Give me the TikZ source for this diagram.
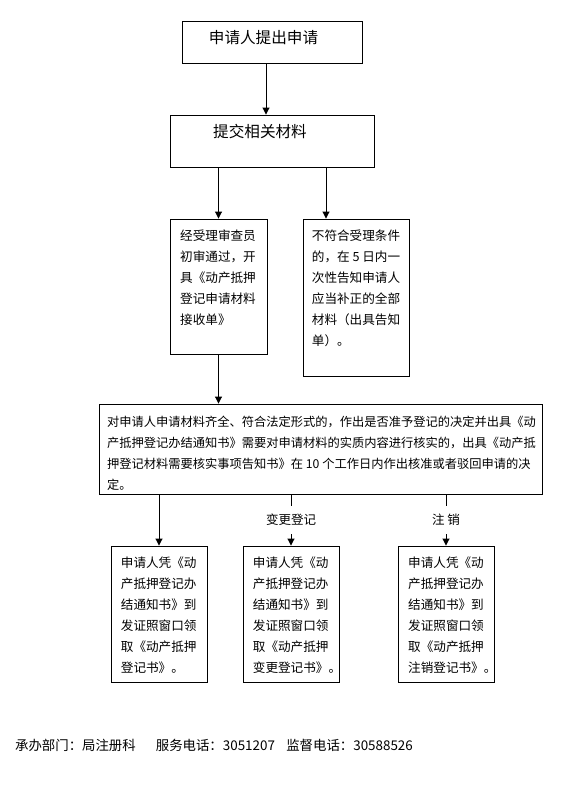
\documentclass[tikz,border=0pt]{standalone}
\usepackage{fontspec}
\setmainfont{Noto Sans CJK SC}
\usetikzlibrary{arrows.meta}

\begin{document}
\begin{tikzpicture}[x=1pt,y=-1pt]
\tikzset{
  stepbox/.style={draw,line width=0.9pt,inner sep=0pt},
  boxtext/.style={anchor=north west,align=left,inner sep=0pt,font=\fontsize{12.6}{21}\selectfont},
  titletext/.style={inner sep=0pt,font=\fontsize{15.6}{18}\selectfont},
  flow/.style={-{Triangle[length=7pt,width=7pt]},line width=0.9pt},
  branch/.style={fill=white,inner xsep=2pt,inner ysep=8pt,font=\fontsize{12.5}{15}\selectfont}
}
\useasboundingbox (0,0) rectangle (575,804);
\node[stepbox,minimum width=180,minimum height=42] (n_apply) at (272,42) {};
\node[stepbox,minimum width=204,minimum height=52] (n_submit) at (272,141) {};
\node[stepbox,minimum width=97,minimum height=135] (n_accept) at (218.5,286.5) {};
\node[stepbox,minimum width=106,minimum height=157] (n_reject) at (356,297.5) {};
\node[stepbox,minimum width=443,minimum height=90] (n_decide) at (320.5,449) {};
\node[stepbox,minimum width=96,minimum height=136] (n_grant) at (159,614) {};
\node[stepbox,minimum width=96,minimum height=136] (n_change) at (291,614) {};
\node[stepbox,minimum width=96,minimum height=136] (n_cancel) at (446,614) {};
\node[titletext] (t_apply) at (263.5,38) {申请人提出申请};
\node[titletext] (t_submit) at (260,132) {提交相关材料};
\node[boxtext] (t_accept) at (180,230) {经受理审查员\\初审通过，开\\具《动产抵押\\登记申请材料\\接收单》};
\node[boxtext] (t_reject) at (311.7,230) {不符合受理条件\\的，在 5 日内一\\次性告知申请人\\应当补正的全部\\材料（出具告知\\单）。};
\node[boxtext,font=\fontsize{12.25}{21}\selectfont] (t_decide) at (107,416) {对申请人申请材料齐全、符合法定形式的，作出是否准予登记的决定并出具《动\\产抵押登记办结通知书》需要对申请材料的实质内容进行核实的，出具《动产抵\\押登记材料需要核实事项告知书》在 10 个工作日内作出核准或者驳回申请的决\\定。};
\node[boxtext] (t_grant) at (120.7,557) {申请人凭《动\\产抵押登记办\\结通知书》到\\发证照窗口领\\取《动产抵押\\登记书》。};
\node[boxtext] (t_change) at (252.7,557) {申请人凭《动\\产抵押登记办\\结通知书》到\\发证照窗口领\\取《动产抵押\\变更登记书》。};
\node[boxtext] (t_cancel) at (408,557) {申请人凭《动\\产抵押登记办\\结通知书》到\\发证照窗口领\\取《动产抵押\\注销登记书》。};
\node[anchor=west,inner sep=0pt,font=\fontsize{13.4}{16}\selectfont] (n_footer) at (15,745) {承办部门：局注册科\hspace{1.5em}服务电话：3051207\hspace{0.85em}监督电话：30588526};
\draw[flow] ([xshift=-6]n_apply.south) -- ([xshift=-6]n_submit.north);
\draw[flow] (n_accept.north |- n_submit.south) -- (n_accept.north);
\draw[flow] ([xshift=-30]n_reject.north |- n_submit.south) -- ([xshift=-30]n_reject.north);
\draw[flow] (n_accept.south) -- (n_accept.south |- n_decide.north);
\draw[flow] (n_grant.north |- n_decide.south) -- (n_grant.north);
\draw[flow] (n_change.north |- n_decide.south) -- node[branch] (l_change) {变更登记} (n_change.north);
\draw[flow] (n_cancel.north |- n_decide.south) -- node[branch] (l_cancel) {注\ 销} (n_cancel.north);
\end{tikzpicture}
\end{document}
